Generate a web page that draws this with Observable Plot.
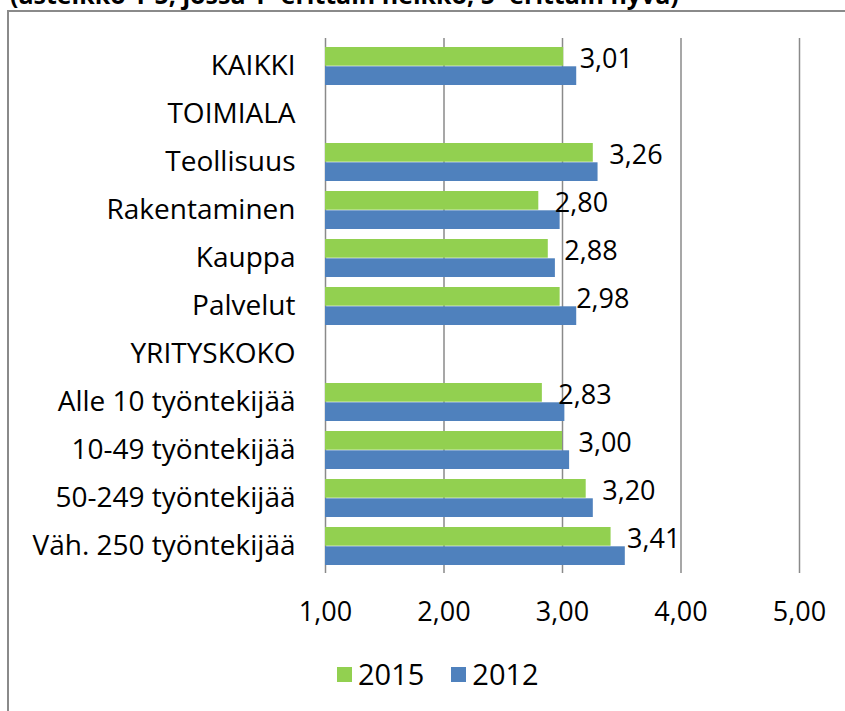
<!DOCTYPE html>
<html>
<head>
<meta charset="utf-8">
<script src="https://cdn.jsdelivr.net/npm/d3@7"></script>
<script src="https://cdn.jsdelivr.net/npm/@observablehq/plot@0.6"></script>
<style>
  html, body { margin: 0; padding: 0; background: #fff; overflow: hidden; }
  body { width: 845px; height: 711px; position: relative; font-family: "Open Sans", sans-serif; }
  #title { position: absolute; left: 10px; top: -21px; font-size: 25px; line-height: 30px; font-weight: bold; white-space: nowrap; color: #000; }
  #frame { position: absolute; left: 7px; top: 10px; width: 900px; height: 800px; border: 2px solid #8a8a8a; box-sizing: border-box; }
  #chart { position: absolute; left: 0; top: 0; }
  #legend { position: absolute; top: 655px; left: 337px; display: flex; align-items: center; font-size: 29px; line-height: 38px; color: #000; }
  #legend .sw { width: 15px; height: 15px; display: inline-block; margin-right: 6px; }
  #legend .item { display: flex; align-items: center; margin-right: 27px; }
</style>
</head>
<body>
<div id="title">(asteikko 1-5, jossa 1=erittäin heikko, 5=erittäin hyvä)</div>
<div id="frame"></div>
<div id="chart"></div>
<div id="legend"></div>
<script>
const categories = ["KAIKKI", "TOIMIALA", "Teollisuus", "Rakentaminen", "Kauppa", "Palvelut", "YRITYSKOKO", "Alle 10 työntekijää", "10-49 työntekijää", "50-249 työntekijää", "Väh. 250 työntekijää"];
const series = ["2015", "2012"];
const values2015 = [3.01, null, 3.26, 2.80, 2.88, 2.98, null, 2.83, 3.00, 3.20, 3.41];
const values2012 = [3.12, null, 3.30, 2.98, 2.94, 3.12, null, 3.02, 3.06, 3.26, 3.53];
const xTicks = [1, 2, 3, 4, 5];
const colors = ["#92D050", "#4F81BD"];

const rows2015 = categories.map((c, i) => ({cat: c, value: values2015[i]})).filter(d => d.value != null);
const rows2012 = categories.map((c, i) => ({cat: c, value: values2012[i]})).filter(d => d.value != null);
const fmt = v => v.toFixed(2).replace(".", ",");

const chart = Plot.plot({
  width: 845,
  height: 640,
  marginLeft: 325,
  marginRight: 46,
  marginTop: 38,
  marginBottom: 67,
  style: {fontFamily: "Open Sans, sans-serif", fontSize: "27px", color: "#000", background: "transparent"},
  x: {domain: [1, 5], ticks: xTicks},
  y: {domain: categories, padding: 0},
  marks: [
    Plot.gridX(xTicks, {stroke: "#8a8a8a", strokeOpacity: 1, strokeWidth: 1.5}),
    Plot.barX(rows2015, {y: "cat", x1: 1, x2: "value", fill: colors[0], insetTop: 5, insetBottom: 24.3}),
    Plot.barX(rows2012, {y: "cat", x1: 1, x2: "value", fill: colors[1], insetTop: 24.3, insetBottom: 5}),
    Plot.text(rows2015, {y: "cat", x: "value", text: d => fmt(d.value), textAnchor: "start", dx: 16, dy: -7, fontSize: 27}),
    Plot.axisX(xTicks, {anchor: "bottom", tickSize: 0, tickPadding: 28, tickFormat: fmt, fontSize: 27, label: null}),
    Plot.axisY({anchor: "left", tickSize: 0, tickPadding: 30, fontSize: 28, label: null})
  ]
});
document.getElementById("chart").appendChild(chart);

const legend = document.getElementById("legend");
series.forEach((s, i) => {
  const item = document.createElement("div");
  item.className = "item";
  const sw = document.createElement("span");
  sw.className = "sw";
  sw.style.background = colors[i];
  item.appendChild(sw);
  item.appendChild(document.createTextNode(s));
  legend.appendChild(item);
});
</script>
</body>
</html>
